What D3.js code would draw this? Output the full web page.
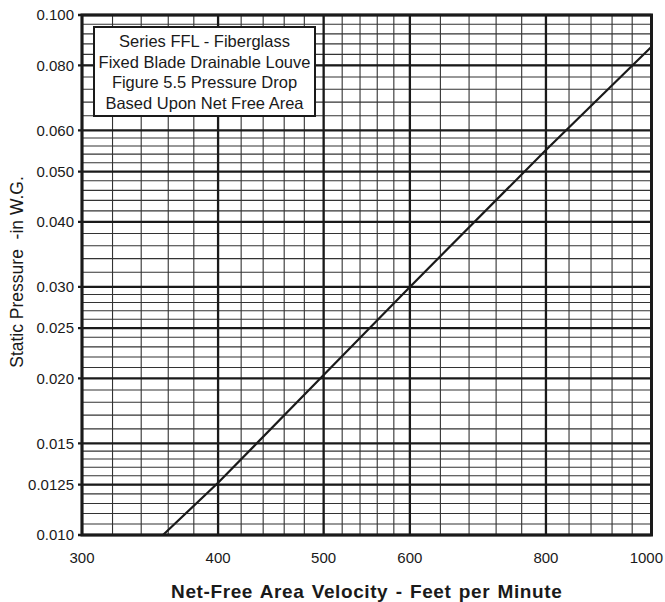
<!DOCTYPE html>
<meta charset="utf-8">
<style>
  body { margin: 0; background: #fff; }
  text { font-family: "Liberation Sans", Arial, Helvetica, sans-serif; fill: #1a1a1a; }
</style>
<svg width="665" height="602"></svg>
<script src="https://d3js.org/d3.v7.min.js"></script>
<script>

    // velocity (fpm) vs static pressure (in W.G.)
    var velocity = [356, 400, 500, 600, 800, 1000];
    var pressure = [0.0100, 0.0126, 0.0203, 0.0300, 0.0550, 0.0869];

    var xMajor = [300, 400, 500, 600, 800, 1000];
    var xLabels = ["300", "400", "500", "600", "800", "1000"];
    var yMajor = [0.01, 0.0125, 0.015, 0.02, 0.025, 0.03, 0.04, 0.05, 0.06, 0.08, 0.1];
    var yLabels = ["0.010", "0.0125", "0.015", "0.020", "0.025", "0.030", "0.040", "0.050", "0.060", "0.080", "0.100"];
    // minor grid: [from, to, step]
    var xMinorSteps = [[300, 600, 20], [600, 1000, 40]];
    var yMinorSteps = [[0.01, 0.015, 0.0005], [0.015, 0.03, 0.001], [0.03, 0.06, 0.002], [0.06, 0.1, 0.004]];

    var titleLines = ["Series FFL - Fiberglass", "Fixed Blade Drainable Louve", "Figure 5.5 Pressure Drop", "Based Upon Net Free Area"];

    var svg = d3.select("svg"),
        margin = {top: 15, left: 82, bottom: 67, right: 13.5},
        W = +svg.attr("width"),
        H = +svg.attr("height");

    svg.append("rect").attr("width", W).attr("height", H).attr("fill", "#fff");

    var x = d3.scaleLog()
        .domain([300, 1000])
        .range([margin.left, W - margin.right]);

    var y = d3.scaleLog()
        .domain([0.01, 0.1])
        .range([H - margin.bottom, margin.top]);

    function minorTicks(steps) {
        var out = [];
        steps.forEach(function(s) {
            d3.range(s[0], s[1] - s[2] / 2, s[2]).forEach(function(v, i) {
                if (i > 0) out.push(v);
            });
        });
        return out;
    }

    var grid = svg.append("g").attr("class", "grid");

    grid.selectAll(".xminor")
        .data(minorTicks(xMinorSteps))
        .enter().append("line")
        .attr("x1", d => x(d)).attr("x2", d => x(d))
        .attr("y1", y(0.01)).attr("y2", y(0.1))
        .attr("stroke", "#333").attr("stroke-width", 1.1);

    grid.selectAll(".yminor")
        .data(minorTicks(yMinorSteps))
        .enter().append("line")
        .attr("y1", d => y(d)).attr("y2", d => y(d))
        .attr("x1", x(300)).attr("x2", x(1000))
        .attr("stroke", "#333").attr("stroke-width", 1.1);

    grid.selectAll(".xmajor")
        .data(xMajor)
        .enter().append("line")
        .attr("x1", d => x(d)).attr("x2", d => x(d))
        .attr("y1", y(0.01)).attr("y2", y(0.1))
        .attr("stroke", "#1a1a1a").attr("stroke-width", 2.3);

    grid.selectAll(".ymajor")
        .data(yMajor)
        .enter().append("line")
        .attr("y1", d => y(d)).attr("y2", d => y(d))
        .attr("x1", x(300) - 4).attr("x2", x(1000))
        .attr("stroke", "#1a1a1a").attr("stroke-width", 2.3);

    // frame
    svg.append("rect")
        .attr("x", x(300)).attr("y", y(0.1))
        .attr("width", x(1000) - x(300)).attr("height", y(0.01) - y(0.1))
        .attr("fill", "none").attr("stroke", "#1a1a1a").attr("stroke-width", 3);

    // data line
    var line = d3.line()
        .x((d, i) => x(velocity[i]))
        .y((d, i) => y(pressure[i]));

    svg.append("path")
        .datum(velocity)
        .attr("d", line)
        .attr("fill", "none")
        .attr("stroke", "#1a1a1a")
        .attr("stroke-width", 2.2);

    // tick labels
    svg.append("g").selectAll("text")
        .data(yMajor)
        .enter().append("text")
        .attr("x", x(300) - 8)
        .attr("y", d => y(d))
        .attr("dy", "0.36em")
        .attr("text-anchor", "end")
        .style("font-size", "15px")
        .text((d, i) => yLabels[i]);

    var last = xMajor.length - 1;
    svg.append("g").selectAll("text")
        .data(xMajor)
        .enter().append("text")
        .attr("x", (d, i) => i === last ? W - 2 : x(d))
        .attr("y", y(0.01) + 28)
        .attr("text-anchor", (d, i) => i === last ? "end" : "middle")
        .style("font-size", "15px")
        .text((d, i) => xLabels[i]);

    // axis titles
    svg.append("text")
        .attr("x", (x(300) + x(1000)) / 2)
        .attr("y", 598)
        .attr("text-anchor", "middle")
        .style("font-size", "19px")
        .style("font-weight", "bold")
        .style("letter-spacing", "0.6px")
        .style("word-spacing", "1.5px")
        .text("Net-Free Area Velocity - Feet per Minute");

    svg.append("text")
        .attr("transform", "translate(23,272) rotate(-90)")
        .attr("text-anchor", "middle")
        .style("font-size", "17.5px")
        .style("white-space", "pre")
        .text("Static Pressure  -in W.G.");

    // title box
    var box = svg.append("g");
    box.append("rect")
        .attr("x", 94).attr("y", 27)
        .attr("width", 221).attr("height", 89)
        .attr("fill", "#fff").attr("stroke", "#1a1a1a").attr("stroke-width", 2);
    box.selectAll("text")
        .data(titleLines)
        .enter().append("text")
        .attr("x", 204.5)
        .attr("y", (d, i) => 47 + i * 20.7)
        .attr("text-anchor", "middle")
        .style("font-size", "16.5px")
        .text(d => d);

</script>
